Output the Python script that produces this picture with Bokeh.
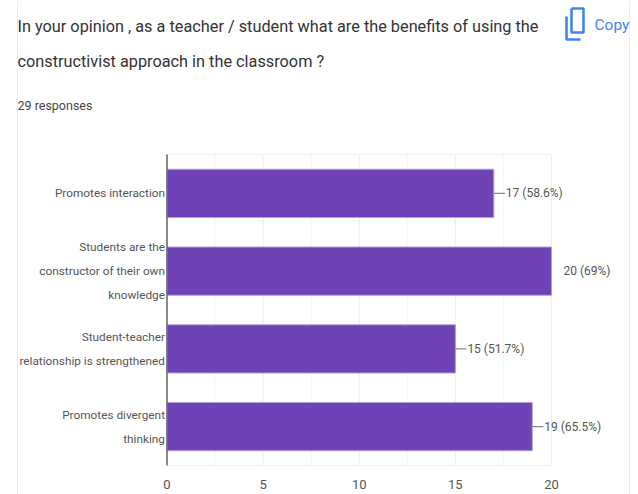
from bokeh.core.properties import value
from bokeh.embed import file_html
from bokeh.resources import INLINE
from bokeh.models import ColumnDataSource, Label, LabelSet, Range1d
from bokeh.plotting import figure

# Survey results
title_lines = [
    "In your opinion , as a teacher / student what are the benefits of using the",
    "constructivist approach in the classroom ?",
]
responses_label = "29 responses"
copy_label = "Copy"
categories = [
    "Promotes interaction",
    "Students are the\nconstructor of their own\nknowledge",
    "Student-teacher\nrelationship is strengthened",
    "Promotes divergent\nthinking",
]
counts = [17, 20, 15, 19]
value_labels = ["17 (58.6%)", "20 (69%)", "15 (51.7%)", "19 (65.5%)"]
x_ticks = [0, 5, 10, 15, 20]
x_minor_ticks = [2.5, 7.5, 12.5, 17.5]

FONT = value("Roboto")
WIDTH, HEIGHT = 638, 494
LINE_STEP = 24

# Plot area inside the page; the frame fills the page so headings share its coordinates
LEFT, RIGHT, TOP, BOTTOM = 166.5, 551.0, 154.0, 465.0
x_scale = (RIGHT - LEFT) / max(x_ticks)
y_scale = (BOTTOM - TOP) / len(categories)
positions = list(range(len(categories)))[::-1]  # first category on top
y_low, y_high = -0.5, len(categories) - 0.5
y_start = y_low - (HEIGHT - BOTTOM) / y_scale


def page_x(px):
    return (px - LEFT) / x_scale


def page_y(px):
    return y_start + (HEIGHT - px) / y_scale


def page_line(xs, ys, **style):
    p.line([page_x(x) for x in xs], [page_y(y) for y in ys], **style)


p = figure(
    width=WIDTH, height=HEIGHT, output_backend="svg", toolbar_location=None,
    x_range=Range1d(page_x(0), page_x(WIDTH)),
    y_range=Range1d(y_start, y_high + TOP / y_scale),
    min_border=0, background_fill_color="white", border_fill_color="white",
)
p.outline_line_color = None
p.axis.visible = False
p.grid.visible = False

# Card borders
for edge in (17, 629):
    page_line([edge, edge], [0, HEIGHT], line_color="#ececec", line_width=1)

# Grid
p.segment(x0=x_minor_ticks, x1=x_minor_ticks, y0=y_low, y1=y_high, line_color="#f5f5f5", line_width=1)
p.segment(x0=x_ticks, x1=x_ticks, y0=y_low, y1=y_high, line_color="#ededed", line_width=1)
p.segment(x0=[0, 0], x1=[max(x_ticks)] * 2, y0=[y_low, y_high], y1=[y_low, y_high],
          line_color="#f1f1f1", line_width=1)

# Bars and the short leader lines running to their value labels
p.hbar(y=positions, right=counts, left=0, height=0.62,
       fill_color="#6f42b5", line_color="#b49ddd", line_width=1)
leaders = [(c, y) for c, y in zip(counts, positions) if c < max(x_ticks)]
p.segment(x0=[c for c, _ in leaders], x1=[c + 0.58 for c, _ in leaders],
          y0=[y for _, y in leaders], y1=[y for _, y in leaders],
          line_color="#888888", line_width=1.2)

# Category axis line
p.segment(x0=0, x1=0, y0=y_low, y1=y_high, line_color="#666666", line_width=1.5)

# Value labels
p.add_layout(LabelSet(
    x="x", y="y", text="text", x_offset=12,
    source=ColumnDataSource(dict(x=counts, y=positions, text=value_labels)),
    text_font=FONT, text_font_size="12px", text_color="#555555",
    text_align="left", text_baseline="middle",
))

# Value axis numbers
p.add_layout(LabelSet(
    x="x", y="y", text="text", y_offset=-19,
    source=ColumnDataSource(dict(x=x_ticks, y=[y_low] * len(x_ticks), text=[str(t) for t in x_ticks])),
    text_font=FONT, text_font_size="13px", text_color="#555555",
    text_align="center", text_baseline="middle",
))

# Category labels, split into right-aligned lines centred on their bar
rows = dict(y=[], text=[], x=[], dy=[])
for category, position in zip(categories, positions):
    lines = category.split("\n")
    for i, line in enumerate(lines):
        rows["y"].append(position)
        rows["x"].append(0)
        rows["text"].append(line)
        rows["dy"].append(((len(lines) - 1) / 2 - i) * LINE_STEP)
p.add_layout(LabelSet(
    x="x", y="y", text="text", y_offset="dy", x_offset=-2,
    source=ColumnDataSource(rows),
    text_font=FONT, text_font_size="11.8px", text_color="#555555",
    text_align="right", text_baseline="middle",
))

# Heading block
for text, top, size, color in [
    (title_lines[0], 26, "16.3px", "#333333"),
    (title_lines[1], 61, "16.3px", "#333333"),
    (responses_label, 105, "12.5px", "#444444"),
]:
    p.add_layout(Label(
        x=17, y=HEIGHT - top, x_units="screen", y_units="screen", text=text,
        text_font="Roboto", text_font_size=size, text_color=color,
        text_align="left", text_baseline="middle",
    ))
p.add_layout(Label(
    x=594, y=HEIGHT - 24, x_units="screen", y_units="screen", text=copy_label,
    text_font="Roboto", text_font_size="15.5px", text_color="#4285f4",
    text_align="left", text_baseline="middle",
))

# Copy icon: a page outline with a second page's corner behind it
icon_style = dict(line_color="#3d85ee", line_width=2.6)
page_line([571, 583, 583, 571, 571], [8, 8, 32, 32, 8], **icon_style)
page_line([566, 566, 580], [16, 39, 39], **icon_style)

open("out.html", "w").write(file_html(p, INLINE))
